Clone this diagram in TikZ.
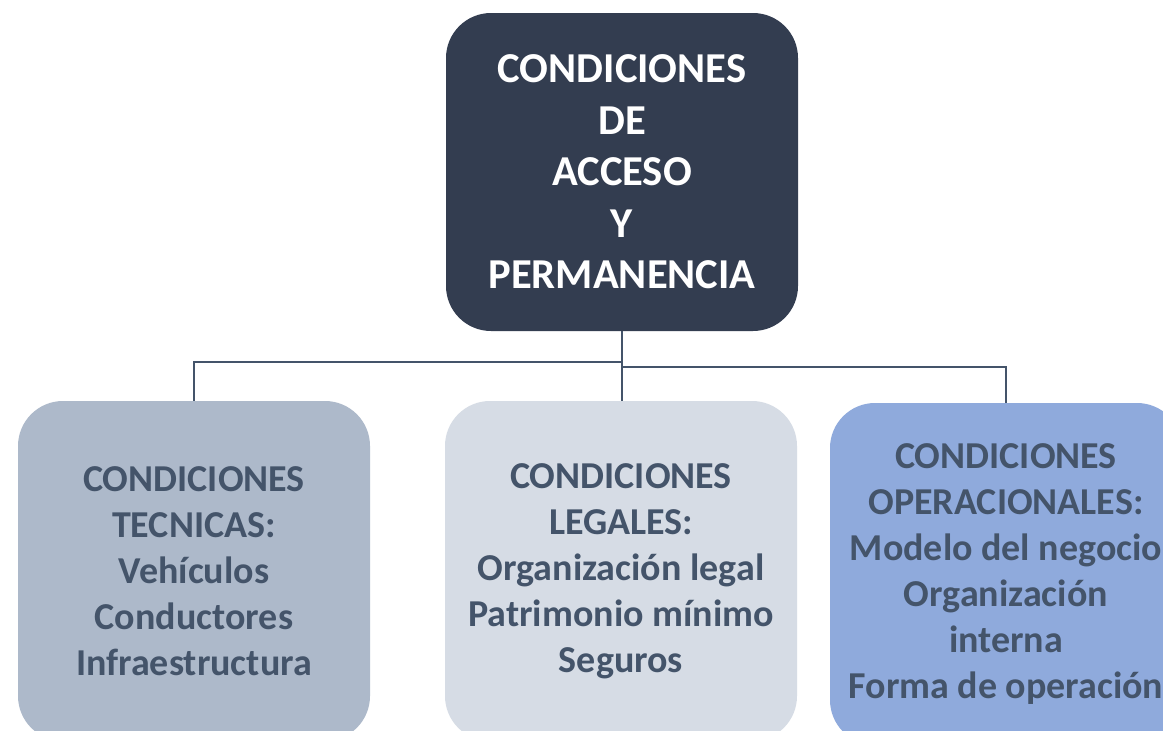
\documentclass[tikz,border=0pt]{standalone}
\usepackage{fontspec}
\setmainfont{Carlito}
\definecolor{topfill}{HTML}{333D50}
\definecolor{leftfill}{HTML}{ADB9CA}
\definecolor{midfill}{HTML}{D6DCE5}
\definecolor{rightfill}{HTML}{8FAADC}
\definecolor{txt}{HTML}{44546A}
\definecolor{conncol}{HTML}{44546A}
\definecolor{warm}{HTML}{F9E3D4}
\tikzset{
  box/.style={rounded corners=45pt, minimum width=352pt, inner sep=0pt, align=center, font=\fontsize{38}{46}\selectfont\bfseries, text=txt},
  topbox/.style={box, fill=topfill, text=white, minimum height=318pt, font=\fontsize{42.6}{51.5}\selectfont\bfseries},
  childbox/.style={box, minimum height=340pt},
  conn/.style={draw=conncol, line width=2.2pt}
}
\begin{document}
\begin{tikzpicture}[x=1pt,y=-1pt]
\useasboundingbox (0,0) rectangle (1163,731);
\clip (0,0) rectangle (1163,731);
\fill[white] (0,0) rectangle (1163,731);
\shade[inner color=warm, outer color=white] (1163,731) circle (260pt);
\node[topbox] (top) at (622,172) {CONDICIONES\\DE\\ACCESO\\Y\\PERMANENCIA};
\node[childbox, fill=leftfill] (left) at (194,571) {CONDICIONES\\TECNICAS:\\Vehículos\\Conductores\\Infraestructura};
\node[childbox, fill=midfill] (mid) at (621,571) {CONDICIONES\\LEGALES:\\Organización legal\\Patrimonio mínimo\\Seguros};
\node[childbox, fill=rightfill, minimum height=342pt] (right) at (1006,574) {CONDICIONES\\OPERACIONALES:\\Modelo del negocio\\Organización\\interna\\Forma de operación};
\coordinate (j1) at (622,362);
\coordinate (j2) at (622,367);
\draw[conn] (top.south) -- (j1) -| (left.north);
\draw[conn] (j1) -- (j1 |- mid.north);
\draw[conn] (j2) -| (right.north);
\end{tikzpicture}
\end{document}
